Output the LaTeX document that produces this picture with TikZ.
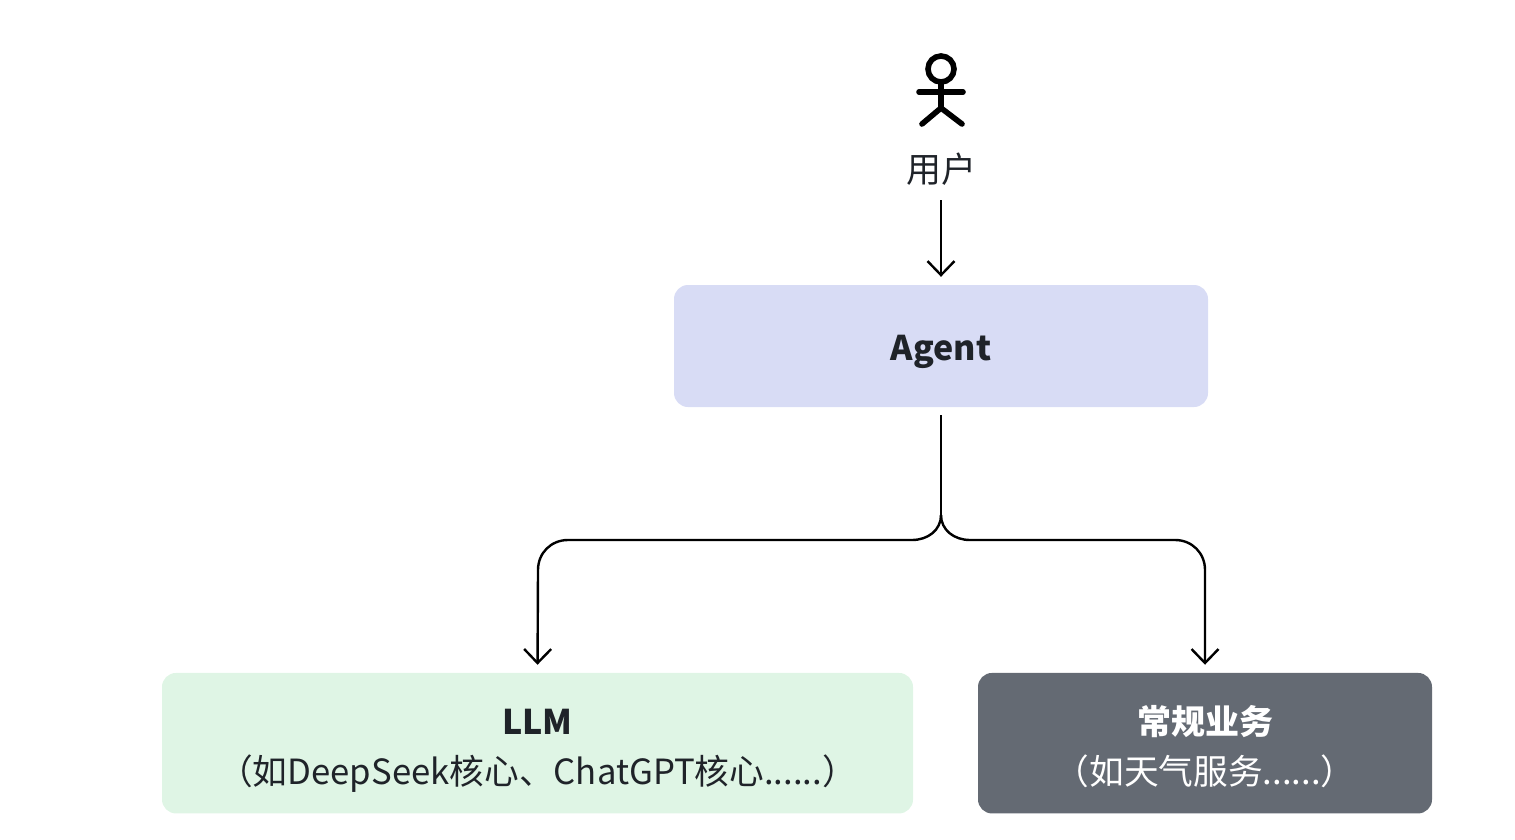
\documentclass[tikz,border=0pt]{standalone}
\usepackage{fontspec}
\setmainfont{Noto Sans CJK SC}
\usetikzlibrary{arrows.meta,positioning}
\definecolor{inkdark}{HTML}{1F2329}
\definecolor{agentfill}{HTML}{D8DCF5}
\definecolor{llmfill}{HTML}{DFF5E5}
\definecolor{bizfill}{HTML}{646A73}
\newcommand{\firstline}{\rule{0pt}{47pt}}
\newcommand{\lastline}{\rule[-15pt]{0pt}{15pt}\fontsize{34.7}{50}\selectfont}
\newcommand{\singleline}{\rule[-8pt]{0pt}{46pt}}
\tikzset{
  x=1pt,y=-1pt,
  card/.style={rounded corners=14pt,draw=none,align=center,inner sep=0pt,text=inkdark,
    font=\fontsize{34}{50}\selectfont},
  figure line/.style={line width=5.6pt,line cap=round,black},
  plain link/.style={line width=2.4pt,black},
  flow/.style={plain link,-{Straight Barb[length=14pt,width=27pt,line width=2.4pt]}},
}
\begin{document}
\begin{tikzpicture}
\useasboundingbox (0,0) rectangle (1515,840);
% stick figure for the user
\draw[figure line] (941,69) circle (13);
\coordinate (neck) at (941,82);
\coordinate (hip) at (941,108);
\draw[figure line] (neck) -- (hip);
\draw[figure line] (919,92) -- (963,92);
\draw[figure line] (922,124) -- (hip) -- (962,124);
% nodes
\node[inner sep=0pt,text=inkdark,font=\fontsize{35}{40}\selectfont] (user) at (941,169) {用户};
\node[card,fill=agentfill,minimum width=534pt,minimum height=122pt] (agent) at (941,346)
  {\singleline\textbf{Agent}};
\node[card,fill=llmfill,minimum width=751pt,minimum height=140.5pt] (llm) at (537.5,743.2)
  {\firstline\textbf{LLM}\\\lastline（如DeepSeek核心、ChatGPT核心......）};
\node[card,fill=bizfill,text=white,minimum width=454pt,minimum height=140.5pt] (biz) at (1205,743.2)
  {\firstline\textbf{常规业务}\\\lastline（如天气服务......）};
% connectors
\coordinate (userfoot) at (941,200);
\coordinate (fork) at (941,515);
\coordinate (busy) at (941,540);
\draw[flow,shorten >=8pt] (userfoot) -- (agent.north);
\draw[plain link,shorten <=8pt] (agent.south) -- (fork);
\draw[flow,shorten >=8pt] (fork) .. controls (941,530) and (928,540) .. (912,540)
  -- (568,540) .. controls (551,540) and (538,553) .. (538,570) -- (llm.north);
\draw[flow,shorten >=8pt] (fork) .. controls (941,530) and (954,540) .. (970,540)
  -- (1175,540) .. controls (1192,540) and (1205,553) .. (1205,570) -- (biz.north);
\end{tikzpicture}
\end{document}
